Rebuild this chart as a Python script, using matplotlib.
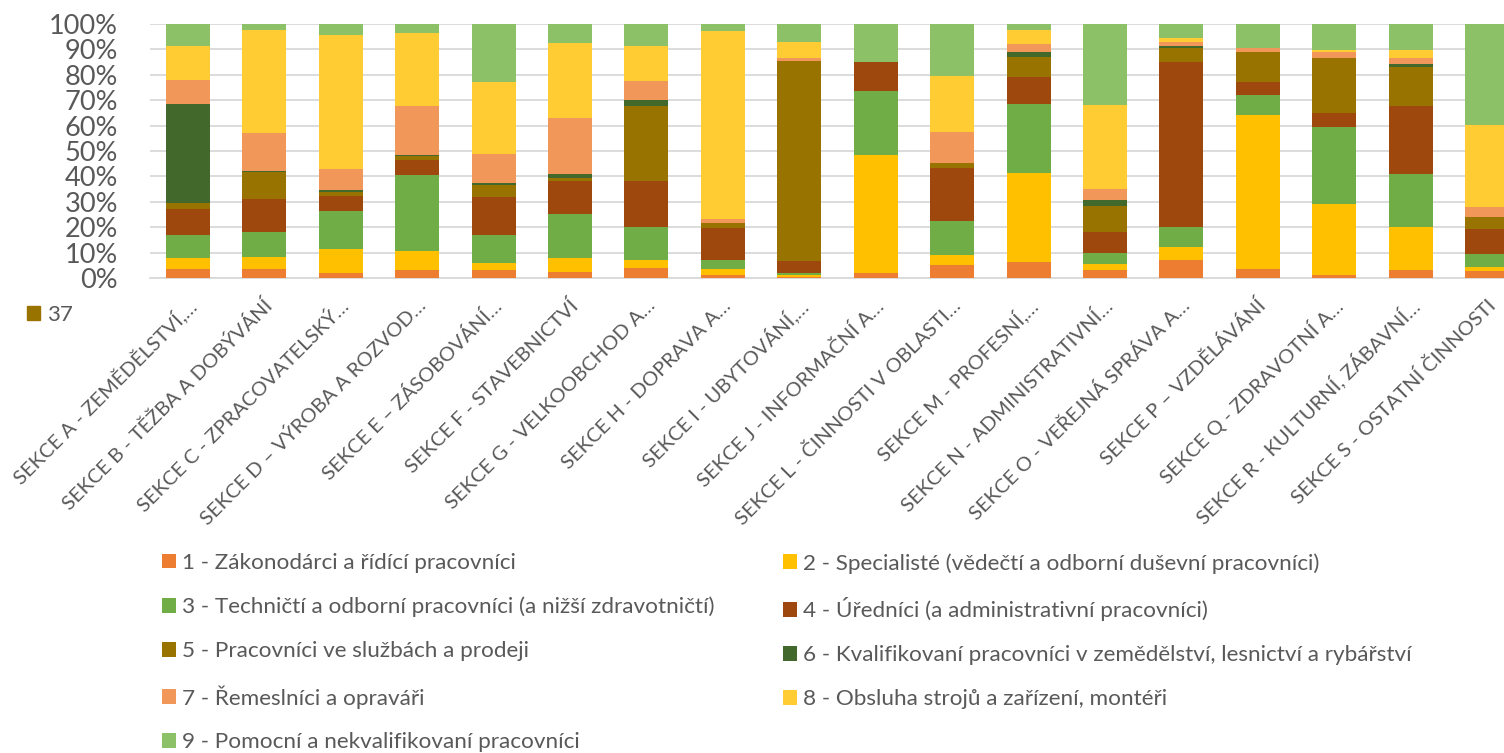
import matplotlib
matplotlib.use("Agg")
import matplotlib.pyplot as plt
from matplotlib.patches import Patch
import matplotlib.transforms as mtransforms
import numpy as np

plt.rcParams['font.family'] = ['Lato', 'DejaVu Sans']

categories = [
    "SEKCE A - ZEMĚDĚLSTVÍ,…", "SEKCE B - TĚŽBA A DOBÝVÁNÍ", "SEKCE C - ZPRACOVATELSKÝ…",
    "SEKCE D – VÝROBA A ROZVOD…", "SEKCE E – ZÁSOBOVÁNÍ…", "SEKCE F - STAVEBNICTVÍ",
    "SEKCE G - VELKOOBCHOD A…", "SEKCE H - DOPRAVA A…", "SEKCE I - UBYTOVÁNÍ,…",
    "SEKCE J - INFORMAČNÍ A…", "SEKCE L - ČINNOSTI V OBLASTI…", "SEKCE M - PROFESNÍ,…",
    "SEKCE N - ADMINISTRATIVNÍ…", "SEKCE O - VEŘEJNÁ SPRÁVA A…", "SEKCE P – VZDĚLÁVÁNÍ",
    "SEKCE Q - ZDRAVOTNÍ A…", "SEKCE R - KULTURNÍ, ZÁBAVNÍ…", "SEKCE S - OSTATNÍ ČINNOSTI",
]

series_names = [
    "1 - Zákonodárci a řídící pracovníci",
    "2 - Specialisté (vědečtí a odborní duševní pracovníci)",
    "3 - Techničtí a odborní pracovníci (a nižší zdravotničtí)",
    "4 - Úředníci (a administrativní pracovníci)",
    "5 - Pracovníci ve službách a prodeji",
    "6 - Kvalifikovaní pracovníci v zemědělství, lesnictví a rybářství",
    "7 - Řemeslníci a opraváři",
    "8 - Obsluha strojů a zařízení, montéři",
    "9 - Pomocní a nekvalifikovaní pracovníci",
]

s1 = [3.7, 3.7, 2.1, 3.3, 3.3, 2.5, 3.8, 1.3, 0.5, 2.1, 5.2, 6.4, 3.3, 7.2, 3.7, 1.3, 3.3, 2.9]
s2 = [4.2, 4.5, 9.4, 7.2, 2.6, 5.5, 3.3, 2.1, 0.8, 46.3, 3.8, 34.9, 2.4, 5.0, 60.5, 27.8, 16.8, 1.4]
s3 = [8.9, 10.1, 14.8, 30.1, 10.9, 17.2, 13.1, 3.5, 0.8, 25.1, 13.6, 27.2, 4.3, 8.0, 8.0, 30.3, 20.7, 5.1]
s4 = [10.2, 12.9, 6.0, 6.0, 15.1, 12.9, 17.8, 12.9, 4.5, 11.7, 20.9, 10.8, 8.0, 65.0, 4.9, 5.4, 27.0, 10.0]
s5 = [2.4, 10.6, 1.7, 1.6, 4.9, 1.2, 29.9, 1.7, 78.9, 0.0, 1.6, 7.9, 10.4, 5.5, 11.7, 21.7, 15.2, 4.6]
s6 = [39.2, 0.2, 0.7, 0.1, 0.7, 1.6, 2.0, 0.0, 0.0, 0.0, 0.1, 1.6, 2.4, 0.5, 0.0, 0.0, 1.4, 0.0]
s7 = [9.4, 15.1, 8.3, 19.3, 11.2, 21.9, 7.5, 1.8, 1.3, 0.0, 12.3, 3.5, 4.1, 1.7, 1.6, 2.6, 2.4, 4.1]
s8 = [13.3, 40.4, 52.8, 29.0, 28.6, 29.8, 13.8, 73.9, 6.0, 0.0, 22.2, 5.4, 33.2, 1.6, 0.1, 0.7, 2.9, 32.0]
s9 = [8.7, 2.5, 4.2, 3.4, 22.7, 7.4, 8.8, 2.8, 7.2, 14.8, 20.3, 2.3, 31.9, 5.5, 9.5, 10.2, 10.3, 39.9]

colors = ["#ED7D31", "#FFC000", "#70AD47", "#9E480E", "#997300",
          "#43682B", "#F1975A", "#FFCD33", "#8CC168"]

extra_label = "37"
extra_color = "#997300"

yticks = [0, 10, 20, 30, 40, 50, 60, 70, 80, 90, 100]

data = np.array([s1, s2, s3, s4, s5, s6, s7, s8, s9], dtype=float)
pct = data / data.sum(axis=0) * 100

W, H = 1504, 753
fig = plt.figure(figsize=(W / 100, H / 100), dpi=100)
ax = fig.add_axes([149.8 / W, 1 - 278 / H, (18 * 76.41) / W, (278 - 24) / H])

x = np.arange(len(categories))
bottom = np.zeros(len(categories))
handles = []
for i in range(9):
    b = ax.bar(x, pct[i], bottom=bottom, width=0.576, color=colors[i],
               label=series_names[i], zorder=3, linewidth=0)
    handles.append(b)
    bottom += pct[i]

ax.set_xlim(-0.5, len(categories) - 0.5)
ax.set_ylim(0, 100)
ax.set_yticks(yticks)
ax.set_yticklabels([f"{v}%" for v in yticks], fontsize=19.5, color="#595959")
ax.tick_params(axis='y', length=0, pad=23)
ax.tick_params(axis='x', length=0, pad=18)
ax.set_xticks(x)
ax.set_xticklabels(categories, rotation=45, ha='right', va='center',
                   rotation_mode='anchor', fontsize=14.5, color="#595959")
shift = mtransforms.ScaledTranslation(4 / 72, 0, fig.dpi_scale_trans)
for lbl in ax.get_xticklabels():
    lbl.set_transform(lbl.get_transform() + shift)
ax.grid(axis='y', color="#D9D9D9", linewidth=1.3, zorder=0)
for s in ['top', 'right', 'left']:
    ax.spines[s].set_visible(False)
ax.spines['bottom'].set_color("#D9D9D9")
ax.spines['bottom'].set_linewidth(1.3)

leg_kw = dict(loc='upper left', frameon=False, fontsize=16.2, labelcolor="#595959",
              handlelength=0.62, handleheight=0.62, handletextpad=0.27,
              labelspacing=1.06, borderaxespad=0, borderpad=0)
col1 = [0, 2, 4, 6, 8]
col2 = [1, 3, 5, 7]
leg1 = fig.legend([handles[i] for i in col1], [series_names[i] for i in col1],
                  bbox_to_anchor=(162 / W, 1 - 553 / H), **leg_kw)
leg2 = fig.legend([handles[i] for i in col2], [series_names[i] for i in col2],
                  bbox_to_anchor=(783 / W, 1 - 553 / H), **leg_kw)

leg3 = fig.legend([Patch(color=extra_color)], [extra_label], loc='upper left',
                  bbox_to_anchor=(27 / W, 1 - 305 / H), frameon=False, fontsize=16,
                  labelcolor="#595959", handlelength=0.6, handleheight=0.6,
                  handletextpad=0.3, borderaxespad=0, borderpad=0)

fig.savefig("out.png", dpi=100)
